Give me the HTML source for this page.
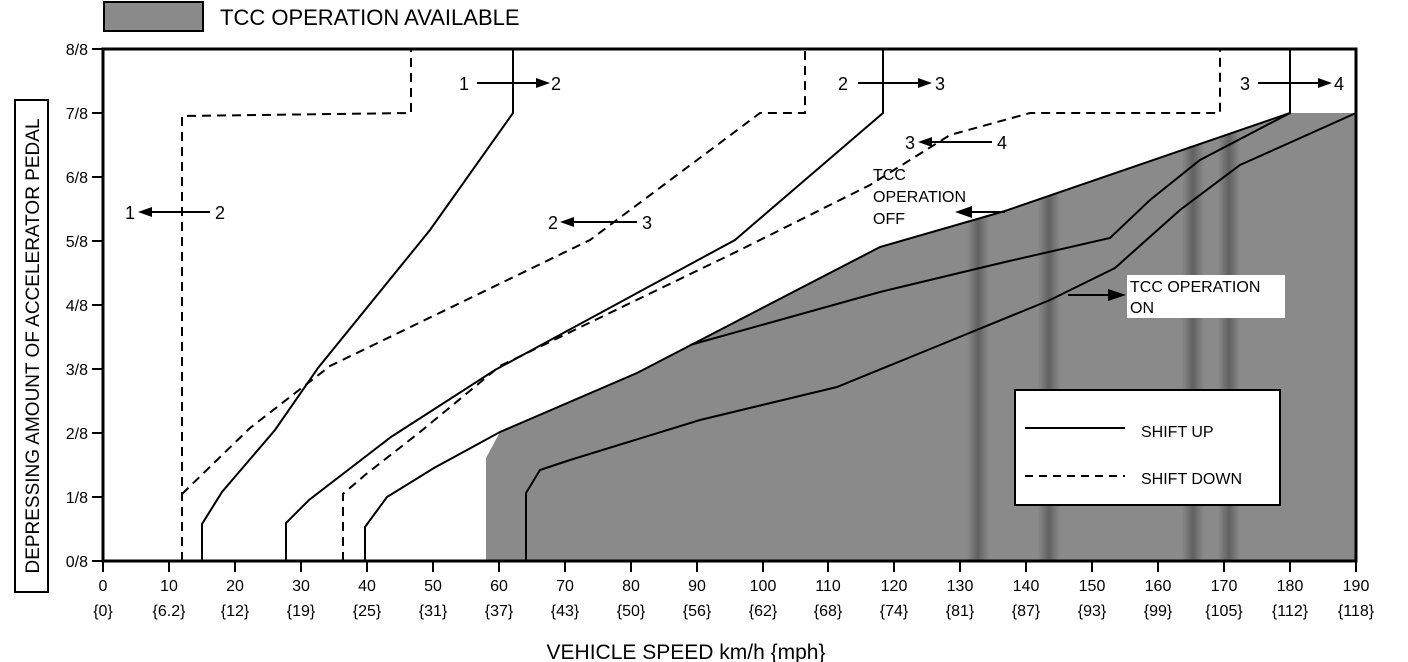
<!DOCTYPE html>
<html><head><meta charset="utf-8"><style>
html,body{margin:0;padding:0;background:#fff;width:1408px;height:662px;overflow:hidden}
svg text{font-family:"Liberation Sans",sans-serif;fill:#000}
</style></head><body>
<svg width="1408" height="662" viewBox="0 0 1408 662" xmlns="http://www.w3.org/2000/svg">
<defs>
<linearGradient id="band" x1="0" x2="1" y1="0" y2="0">
<stop offset="0" stop-color="#000" stop-opacity="0"/>
<stop offset="0.5" stop-color="#000" stop-opacity="0.3"/>
<stop offset="1" stop-color="#000" stop-opacity="0"/>
</linearGradient>
<clipPath id="hc"><polygon points="486,561 486,458 500,432 637,373 880,247 1005,211 1290,113 1356,113 1356,561"/></clipPath>
</defs>

<!-- legend top -->
<rect x="104" y="2" width="99" height="29" fill="#8a8a8a" stroke="#000" stroke-width="2"/>
<text x="220" y="25" font-size="22">TCC OPERATION AVAILABLE</text>

<!-- hatched region -->
<polygon points="486,561 486,458 500,432 637,373 880,247 1005,211 1290,113 1356,113 1356,561" fill="#8a8a8a"/>
<g clip-path="url(#hc)">
<rect x="967" y="100" width="22" height="470" fill="url(#band)"/>
<rect x="1038" y="100" width="22" height="470" fill="url(#band)"/>
<rect x="1182" y="100" width="22" height="470" fill="url(#band)"/>
<rect x="1218" y="100" width="22" height="470" fill="url(#band)"/>
</g>

<!-- frame -->
<rect x="103" y="49" width="1253" height="512" fill="none" stroke="#000" stroke-width="3"/>

<!-- y ticks -->
<g stroke="#000" stroke-width="2">
<line x1="92" y1="49" x2="103" y2="49"/><line x1="92" y1="113" x2="103" y2="113"/>
<line x1="92" y1="177" x2="103" y2="177"/><line x1="92" y1="241" x2="103" y2="241"/>
<line x1="92" y1="305" x2="103" y2="305"/><line x1="92" y1="369" x2="103" y2="369"/>
<line x1="92" y1="433" x2="103" y2="433"/><line x1="92" y1="497" x2="103" y2="497"/>
<line x1="92" y1="561" x2="103" y2="561"/>
</g>
<g font-size="16" text-anchor="end">
<text x="88" y="55">8/8</text><text x="88" y="119">7/8</text><text x="88" y="183">6/8</text>
<text x="88" y="247">5/8</text><text x="88" y="311">4/8</text><text x="88" y="375">3/8</text>
<text x="88" y="439">2/8</text><text x="88" y="503">1/8</text><text x="88" y="567">0/8</text>
</g>
<rect x="15" y="100" width="33" height="492" fill="none" stroke="#000" stroke-width="2"/>
<text transform="translate(39,346) rotate(-90)" font-size="19" text-anchor="middle">DEPRESSING AMOUNT OF ACCELERATOR PEDAL</text>

<!-- x ticks -->
<g stroke="#000" stroke-width="2">
<line x1="103" y1="561" x2="103" y2="572"/><line x1="169" y1="561" x2="169" y2="572"/>
<line x1="235" y1="561" x2="235" y2="572"/><line x1="301" y1="561" x2="301" y2="572"/>
<line x1="367" y1="561" x2="367" y2="572"/><line x1="433" y1="561" x2="433" y2="572"/>
<line x1="499" y1="561" x2="499" y2="572"/><line x1="565" y1="561" x2="565" y2="572"/>
<line x1="631" y1="561" x2="631" y2="572"/><line x1="697" y1="561" x2="697" y2="572"/>
<line x1="763" y1="561" x2="763" y2="572"/><line x1="828" y1="561" x2="828" y2="572"/>
<line x1="894" y1="561" x2="894" y2="572"/><line x1="960" y1="561" x2="960" y2="572"/>
<line x1="1026" y1="561" x2="1026" y2="572"/><line x1="1092" y1="561" x2="1092" y2="572"/>
<line x1="1158" y1="561" x2="1158" y2="572"/><line x1="1224" y1="561" x2="1224" y2="572"/>
<line x1="1290" y1="561" x2="1290" y2="572"/><line x1="1356" y1="561" x2="1356" y2="572"/>
</g>
<g font-size="16" text-anchor="middle">
<text x="103" y="591">0</text><text x="169" y="591">10</text><text x="235" y="591">20</text><text x="301" y="591">30</text>
<text x="367" y="591">40</text><text x="433" y="591">50</text><text x="499" y="591">60</text><text x="565" y="591">70</text>
<text x="631" y="591">80</text><text x="697" y="591">90</text><text x="763" y="591">100</text><text x="828" y="591">110</text>
<text x="894" y="591">120</text><text x="960" y="591">130</text><text x="1026" y="591">140</text><text x="1092" y="591">150</text>
<text x="1158" y="591">160</text><text x="1224" y="591">170</text><text x="1290" y="591">180</text><text x="1356" y="591">190</text>
<text x="103" y="616">{0}</text><text x="169" y="616">{6.2}</text><text x="235" y="616">{12}</text><text x="301" y="616">{19}</text>
<text x="367" y="616">{25}</text><text x="433" y="616">{31}</text><text x="499" y="616">{37}</text><text x="565" y="616">{43}</text>
<text x="631" y="616">{50}</text><text x="697" y="616">{56}</text><text x="763" y="616">{62}</text><text x="828" y="616">{68}</text>
<text x="894" y="616">{74}</text><text x="960" y="616">{81}</text><text x="1026" y="616">{87}</text><text x="1092" y="616">{93}</text>
<text x="1158" y="616">{99}</text><text x="1224" y="616">{105}</text><text x="1290" y="616">{112}</text><text x="1356" y="616">{118}</text>
</g>
<text x="686" y="659" font-size="21" text-anchor="middle">VEHICLE SPEED  km/h {mph}</text>

<!-- shift up lines -->
<g fill="none" stroke="#000" stroke-width="2">
<polyline points="202,561 202,524 222,492 275,430 318,368 430,230 513,113 513,49"/>
<polyline points="286,561 286,523 309,500 391,437 495,370 735,240 883,113 883,49"/>
<polyline points="365,561 365,527 387,497 434,468 500,432 637,373 880,247 1005,211 1290,113 1290,49"/>
<polyline points="690,345 880,292 1005,262 1110,238 1150,200 1200,160 1290,113"/>
<polyline points="526,561 526,493 540,470 570,460 700,420 837,387 940,345 1050,300 1115,268 1180,210 1240,165 1356,113"/>
</g>
<!-- shift down lines -->
<g fill="none" stroke="#000" stroke-width="2" stroke-dasharray="9,6">
<polyline points="182,561 182,116 411,113 411,49"/>
<polyline points="182,494 250,428 330,366 590,240 760,113 805,113 805,49"/>
<polyline points="343,561 343,494 365,475 420,432 500,366 740,250 870,185 950,135 1030,113 1220,113 1220,49"/>
</g>

<!-- annotations -->
<g font-size="18">
<text x="459" y="90">1</text><text x="551" y="90">2</text>
<text x="838" y="90">2</text><text x="935" y="90">3</text>
<text x="1240" y="90">3</text><text x="1334" y="90">4</text>
<text x="125" y="219">1</text><text x="215" y="219">2</text>
<text x="548" y="229">2</text><text x="642" y="229">3</text>
<text x="905" y="149">3</text><text x="997" y="149">4</text>
</g>
<g stroke="#000" stroke-width="2">
<line x1="477" y1="83" x2="540" y2="83"/><line x1="858" y1="83" x2="922" y2="83"/>
<line x1="1258" y1="83" x2="1322" y2="83"/><line x1="148" y1="212" x2="210" y2="212"/>
<line x1="570" y1="222" x2="637" y2="222"/><line x1="928" y1="142" x2="992" y2="142"/>
<line x1="970" y1="212" x2="1005" y2="212"/><line x1="1068" y1="295" x2="1110" y2="295"/>
</g>
<g fill="#000">
<polygon points="550,83 536,78 536,88"/><polygon points="932,83 918,78 918,88"/>
<polygon points="1332,83 1318,78 1318,88"/><polygon points="138,212 152,207 152,217"/>
<polygon points="560,222 574,217 574,227"/><polygon points="918,142 932,137 932,147"/>
<polygon points="955,212 972,206 972,218"/><polygon points="1126,295 1108,289 1108,301"/>
</g>
<g font-size="16">
<text x="873" y="180">TCC</text><text x="873" y="202">OPERATION</text><text x="873" y="224">OFF</text>
</g>
<rect x="1127" y="275" width="158" height="43" fill="#fff"/>
<text x="1130" y="292" font-size="16">TCC OPERATION</text>
<text x="1130" y="313" font-size="16">ON</text>

<!-- legend box -->
<rect x="1015" y="390" width="265" height="115" fill="#fff" stroke="#000" stroke-width="2"/>
<line x1="1025" y1="428" x2="1125" y2="428" stroke="#000" stroke-width="2"/>
<line x1="1025" y1="476" x2="1125" y2="476" stroke="#000" stroke-width="2" stroke-dasharray="8,6"/>
<text x="1141" y="437" font-size="16">SHIFT UP</text>
<text x="1141" y="484" font-size="16">SHIFT DOWN</text>
</svg>
</body></html>
